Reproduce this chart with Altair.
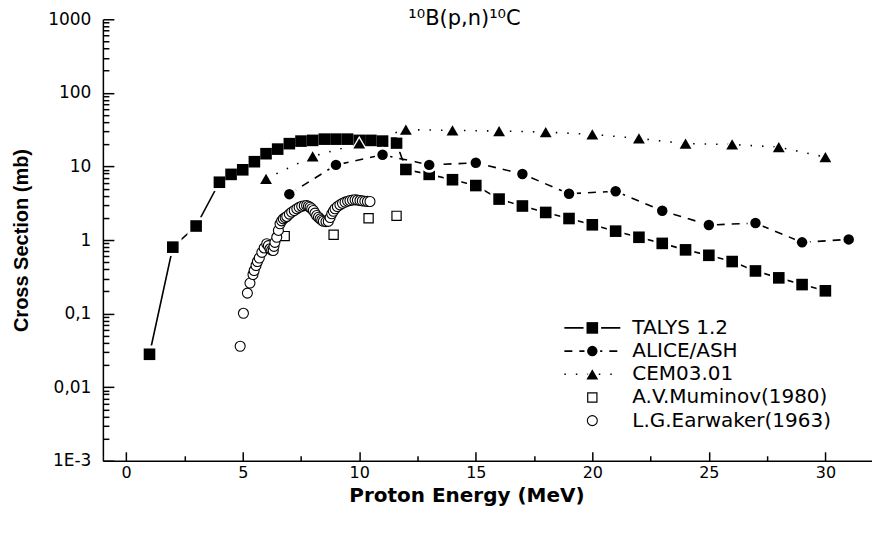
import altair as alt
import pandas as pd

# ---------------- data ----------------
TALYS_E = [1, 2, 3, 4, 4.5, 5, 5.5, 6, 6.5, 7, 7.5, 8, 8.5, 9, 9.5, 10, 10.5, 11, 11.6,
           12, 13, 14, 15, 16, 17, 18, 19, 20, 21, 22, 23, 24, 25, 26, 27, 28, 29, 30]
TALYS_S = [0.028, 0.8, 1.55, 6.1, 7.8, 9.0, 11.6, 14.9, 17.2, 20.4, 22.1, 22.6, 23.5, 23.5,
           23.5, 22.6, 22.6, 22.1, 20.8,
           9.1, 7.8, 6.6, 5.5, 3.6, 2.9, 2.37, 1.96, 1.61, 1.32, 1.09, 0.90, 0.735, 0.62,
           0.51, 0.38, 0.306, 0.248, 0.204]

ALICE_E = [7, 9, 11, 13, 15, 17, 19, 21, 23, 25, 27, 29, 31]
ALICE_S = [4.2, 10.5, 14.4, 10.5, 11.2, 7.9, 4.25, 4.6, 2.5, 1.6, 1.7, 0.93, 1.02]

CEM_E = [6, 8, 10, 12, 14, 16, 18, 20, 22, 24, 26, 28, 30]
CEM_S = [6.8, 13.7, 20.5, 31.6, 30.9, 30.3, 29.3, 27.3, 24.0, 20.4, 19.9, 18.3, 13.4]

MUMINOV_E = [6.8, 8.9, 10.4, 11.6]
MUMINOV_S = [1.13, 1.18, 1.98, 2.13]

EARWAKER_E = [4.89, 5.03, 5.20, 5.31, 5.44, 5.49, 5.57, 5.63, 5.71, 5.82, 5.92, 6.03, 6.10,
              6.17, 6.24, 6.31, 6.34, 6.38, 6.46, 6.53, 6.60, 6.67, 6.74, 6.82, 6.89, 7.00,
              7.10, 7.21, 7.32, 7.42, 7.53, 7.64, 7.74, 7.82, 7.89, 7.96, 8.03, 8.10, 8.17,
              8.25, 8.32, 8.39, 8.46, 8.57, 8.67, 8.75, 8.82, 8.89, 8.96, 9.06, 9.17, 9.28,
              9.39, 9.50, 9.60, 9.71, 9.82, 9.92, 10.03, 10.13, 10.24, 10.35, 10.46]
EARWAKER_S = [0.036, 0.101, 0.19, 0.26, 0.34, 0.385, 0.45, 0.51, 0.57, 0.68, 0.78, 0.89, 0.84,
              0.76, 0.73, 0.72, 0.82, 0.93, 1.09, 1.35, 1.66, 1.82, 1.94, 2.02, 2.09, 2.25,
              2.39, 2.52, 2.66, 2.78, 2.88, 2.93, 2.95, 2.88, 2.79, 2.66, 2.52, 2.32, 2.15,
              2.04, 1.94, 1.86, 1.80, 1.78, 1.79, 2.02, 2.27, 2.46, 2.66, 2.85, 3.01, 3.15,
              3.27, 3.37, 3.44, 3.49, 3.52, 3.49, 3.44, 3.40, 3.37, 3.35, 3.34]

LEGEND_LABELS = ["TALYS 1.2", "ALICE/ASH", "CEM03.01", "A.V.Muminov(1980)", "L.G.Earwaker(1963)"]

X_LABELS = [0, 5, 10, 15, 20, 25, 30]
X_MINOR = [2.5, 7.5, 12.5, 17.5, 22.5, 27.5]
Y_TICKS = [0.001, 0.01, 0.1, 1, 10, 100, 1000]
Y_TICK_LABELS = ["1E-3", "0,01", "0,1", "1", "10", "100", "1000"]
Y_MINOR = [m * d for d in [0.001, 0.01, 0.1, 1, 10, 100] for m in range(2, 10)]

TITLE = "¹⁰B(p,n)¹⁰C"

# ---------------- layout ----------------
W, H = 770, 442
FONT = "DejaVu Sans"

talys = pd.DataFrame({"E": TALYS_E, "S": TALYS_S})
alice = pd.DataFrame({"E": ALICE_E, "S": ALICE_S})
cem = pd.DataFrame({"E": CEM_E, "S": CEM_S})
mum = pd.DataFrame({"E": MUMINOV_E, "S": MUMINOV_S})
ear = pd.DataFrame({"E": EARWAKER_E, "S": EARWAKER_S})

xscale = alt.Scale(domain=[-1, 32], nice=False, zero=False)
yscale = alt.Scale(type="log", domain=[0.001, 1000], nice=False)

label_expr = "''"
for v, lab in zip(Y_TICKS, Y_TICK_LABELS):
    label_expr = f"abs(datum.value - {v}) < {v * 1e-6} ? '{lab}' : ({label_expr})"

main_x = alt.Axis(orient="bottom", values=X_LABELS, ticks=False, grid=False,
                  domain=True, domainColor="black", domainWidth=1.5,
                  labelFont=FONT, labelFontSize=16, labelColor="black", labelPadding=4,
                  labelFlush=False, labelOverlap=False,
                  title="Proton Energy (MeV)", titleFont=FONT, titleFontSize=20,
                  titleFontWeight="bold", titleColor="black",
                  titleX=364, titleY=35, titleBaseline="middle")
main_y = alt.Axis(orient="left", values=Y_TICKS, ticks=False, grid=False,
                  domain=True, domainColor="black", domainWidth=1.5,
                  labelExpr=label_expr, labelFont=FONT, labelFontSize=17, labelColor="black",
                  labelPadding=12, labelFlush=False, labelOverlap=False,
                  title="Cross Section (mb)", titleFont="Liberation Sans", titleFontSize=20,
                  titleFontWeight="bold", titleColor="black",
                  titleX=-81, titleY=H / 2, titleBaseline="middle", titleAngle=-90)


def tick_axis_x(values, size):
    return alt.Axis(orient="top", offset=-H, values=values, tickSize=size, tickWidth=1.5,
                    tickColor="black", labels=False, domain=False, grid=False, title=None)


def tick_axis_y(values, size):
    return alt.Axis(orient="right", offset=-W, values=values, tickSize=size, tickWidth=1.5,
                    tickColor="black", labels=False, domain=False, grid=False, title=None)


def enc(xaxis=None, yaxis=None):
    return dict(x=alt.X("E:Q", scale=xscale, axis=xaxis),
                y=alt.Y("S:Q", scale=yscale, axis=yaxis))


line_talys = alt.Chart(talys).mark_line(color="black", strokeWidth=1.6).encode(
    **enc(main_x, main_y))
line_alice = alt.Chart(alice).mark_line(color="black", strokeWidth=1.6, strokeDash=[8, 7]).encode(
    **enc(tick_axis_x(X_LABELS, 9), tick_axis_y(Y_TICKS, 11)))
line_cem = alt.Chart(cem).mark_line(color="black", strokeWidth=1.6, strokeDash=[1.5, 10]).encode(
    **enc(tick_axis_x(X_MINOR, 5), tick_axis_y(Y_MINOR, 6)))


def pts(df, shape, size, halo=True):
    layers = []
    if halo:
        layers.append(alt.Chart(df).mark_point(shape=shape, filled=True, color="white",
                                               size=size * 2.3, opacity=1).encode(**enc()))
    layers.append(alt.Chart(df).mark_point(shape=shape, filled=True, color="black",
                                           size=size, opacity=1).encode(**enc()))
    return layers


p_talys = pts(talys, "square", 135)
p_alice = pts(alice, "circle", 110)
p_cem = pts(cem, "triangle-up", 140)
p_mum = [alt.Chart(mum).mark_point(shape="square", fill="white", stroke="black", strokeWidth=1.2,
                                   size=85, opacity=1, filled=False).encode(**enc())]
p_ear = [alt.Chart(ear).mark_point(shape="circle", fill="white", stroke="black", strokeWidth=1.1,
                                   size=100, opacity=1, filled=False).encode(**enc())]

# ---------------- legend and title (pixel positions inside the plot area) ----------------
ROW0, DROW = 309, 23.2
LX1, LX2, LXM, LXT = 462, 518, 490, 530
leg = pd.DataFrame({"label": LEGEND_LABELS,
                    "yp": [ROW0 + i * DROW for i in range(len(LEGEND_LABELS))],
                    "x1": LX1, "x2": LX2, "xm": LXM, "xt": LXT})


def lx(field):
    return alt.X(f"{field}:Q", scale=None, axis=None)


ly = alt.Y("yp:Q", scale=None, axis=None)

leg_text = alt.Chart(leg).mark_text(align="left", baseline="middle", font=FONT, fontSize=20,
                                    color="black").encode(x=lx("xt"), y=ly, text="label:N")
leg_layers = []
for i, dash in enumerate([None, [8, 7], [1.5, 10]]):
    d = leg.iloc[[i]]
    kw = {"strokeDash": dash} if dash else {}
    leg_layers.append(alt.Chart(d).mark_rule(color="black", strokeWidth=1.6, **kw).encode(
        x=lx("x1"), x2="x2:Q", y=ly))
for i, (shape, size) in enumerate([("square", 135), ("circle", 110), ("triangle-up", 140)]):
    d = leg.iloc[[i]]
    leg_layers.append(alt.Chart(d).mark_point(shape=shape, filled=True, color="white",
                                              size=size * 2.3, opacity=1).encode(x=lx("xm"), y=ly))
    leg_layers.append(alt.Chart(d).mark_point(shape=shape, filled=True, color="black",
                                              size=size, opacity=1).encode(x=lx("xm"), y=ly))
leg_layers.append(alt.Chart(leg.iloc[[3]]).mark_point(shape="square", fill="white", stroke="black",
                                                      strokeWidth=1.2, size=85, opacity=1,
                                                      filled=False).encode(x=lx("xm"), y=ly))
leg_layers.append(alt.Chart(leg.iloc[[4]]).mark_point(shape="circle", fill="white", stroke="black",
                                                      strokeWidth=1.1, size=100, opacity=1,
                                                      filled=False).encode(x=lx("xm"), y=ly))

title_df = pd.DataFrame({"t": [TITLE], "xp": [362], "yp": [0]})
title_mark = alt.Chart(title_df).mark_text(align="center", baseline="middle", font=FONT,
                                           fontSize=21, color="black").encode(
    x=lx("xp"), y=ly, text="t:N")

chart = alt.layer(
    line_talys, line_alice, line_cem,
    *p_talys, *p_alice, *p_cem, *p_mum, *p_ear,
    *leg_layers, leg_text, title_mark,
).resolve_axis(x="independent", y="independent").properties(
    width=W, height=H,
    autosize=alt.AutoSizeParams(type="none"),
    padding={"left": 95, "top": 11, "right": 0, "bottom": 50},
    background="white",
).configure_view(stroke=None)

chart.save("out.html", embed_options={"renderer": "svg", "actions": False})
